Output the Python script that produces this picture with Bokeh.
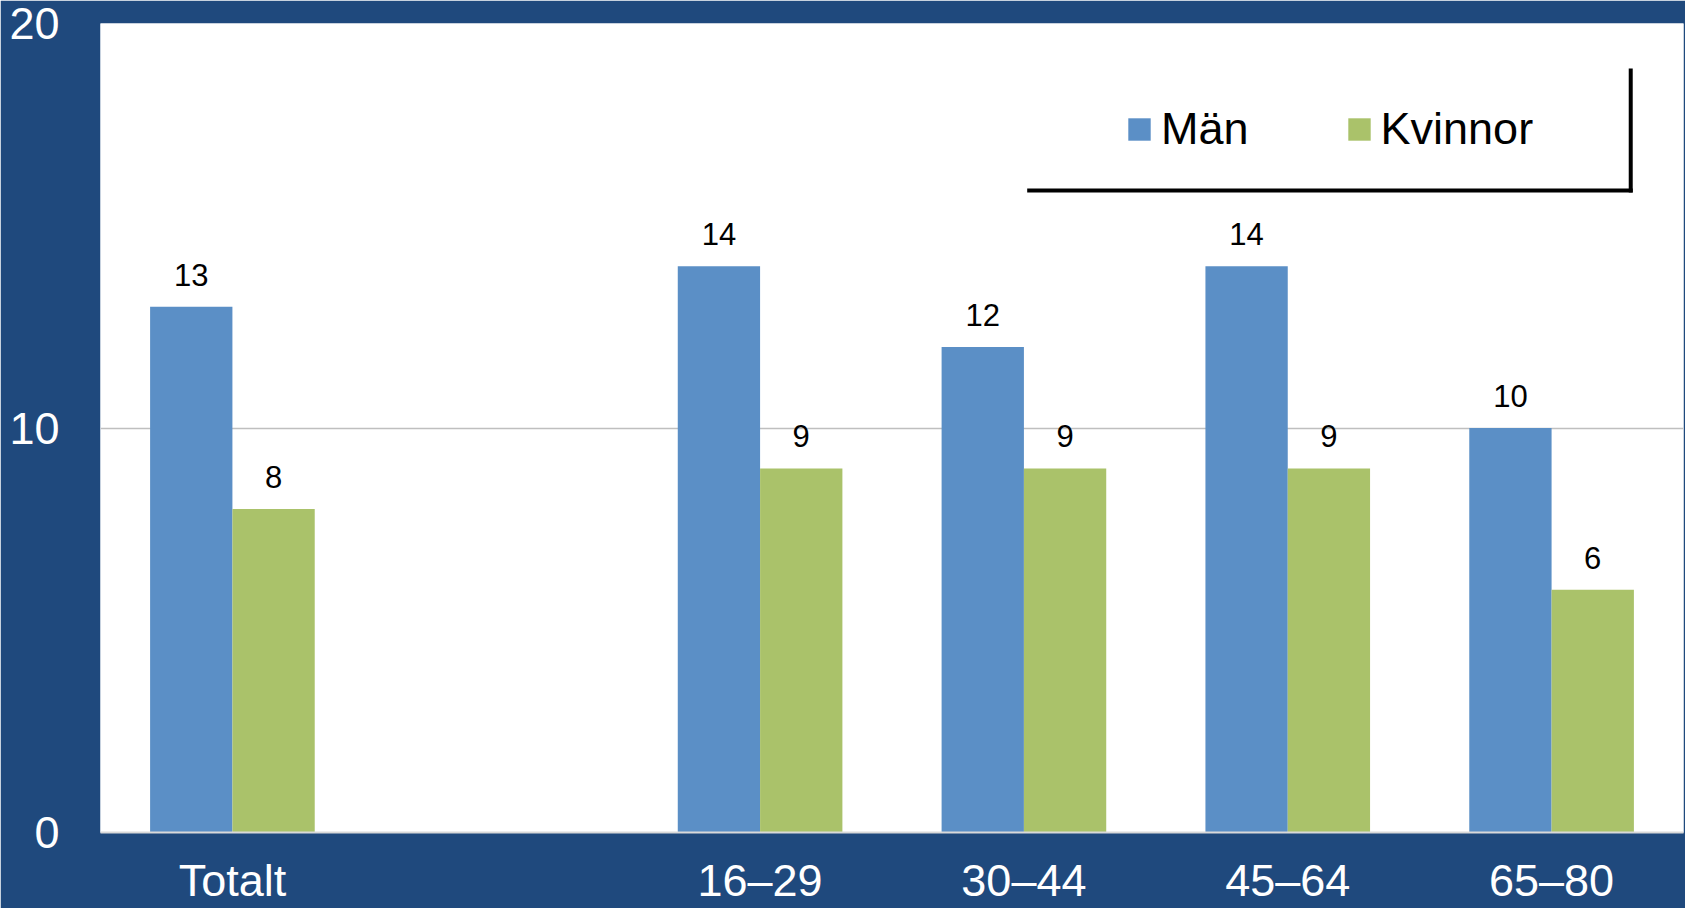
from bokeh.plotting import figure
from bokeh.models import FixedTicker, ColumnDataSource, Legend, LegendItem
from bokeh.core.properties import value
from bokeh.embed import file_html
from bokeh.resources import INLINE

# ---- data ----
categories = ["Totalt", "", "16–29", "30–44", "45–64", "65–80"]
man = [13, None, 14, 12, 14, 10]
kvinnor = [8, None, 9, 9, 9, 6]
y_ticks = [0, 10, 20]
series_names = ["Män", "Kvinnor"]

# ---- styles / layout ----
BG = "#1F497D"
BLUE = "#5B8FC6"
GREEN = "#AAC26A"
FONT = "Liberation Sans"
OFFSET = 0.156
BAR_W = 0.312
W, H = 1685, 908
B_LEFT, B_RIGHT, B_TOP, B_BOTTOM = 100, 2, 23, 76

n = len(categories)
p = figure(width=W, height=H, output_backend="svg", toolbar_location=None,
           x_range=(0, n), y_range=(y_ticks[0], y_ticks[-1]),
           min_border_left=B_LEFT, min_border_right=B_RIGHT,
           min_border_top=B_TOP, min_border_bottom=B_BOTTOM)
p.background_fill_color = "white"
p.border_fill_color = BG
p.outline_line_color = None


def series_source(vals, shift):
    xs, ys, txt = [], [], []
    for i, v in enumerate(vals):
        if v is None:
            continue
        xs.append(i + 0.5 + shift)
        ys.append(v)
        txt.append(str(v))
    return ColumnDataSource(dict(x=xs, y=ys, label=txt))


src_m = series_source(man, -OFFSET)
src_k = series_source(kvinnor, OFFSET)

r_m = p.vbar(x="x", top="y", width=BAR_W, source=src_m, fill_color=BLUE, line_color=None)
r_k = p.vbar(x="x", top="y", width=BAR_W, source=src_k, fill_color=GREEN, line_color=None)

for src in (src_m, src_k):
    p.text(x="x", y="y", text="label", source=src, text_align="center",
           text_baseline="alphabetic", y_offset=-32, text_font=value(FONT),
           text_font_size="31px", text_color="black")

# legend frame (shadow-like lines at bottom and right)
p.segment(x0=[3.52, 5.80], y0=[15.87, 15.87], x1=[5.80, 5.80], y1=[15.87, 18.84],
          line_color="black", line_width=4, line_cap="square")

legend = Legend(items=[LegendItem(label=series_names[0], renderers=[r_m]),
                       LegendItem(label=series_names[1], renderers=[r_k])],
                orientation="horizontal", location=(1025, 677),
                background_fill_alpha=0, border_line_alpha=0, padding=0, margin=0,
                glyph_width=28, glyph_height=28, label_standoff=8, spacing=96,
                label_text_font=FONT, label_text_font_size="45px", label_text_color="black")
p.add_layout(legend, "center")

# y axis
p.yaxis.ticker = FixedTicker(ticks=y_ticks)
p.yaxis.axis_line_color = None
p.yaxis.major_tick_line_color = None
p.yaxis.minor_tick_line_color = None
p.yaxis.major_label_text_color = "white"
p.yaxis.major_label_text_font = FONT
p.yaxis.major_label_text_font_size = "45px"
p.yaxis.major_label_standoff = 35

# x axis
xt = [i + 0.5 for i, c in enumerate(categories) if c]
p.xaxis.ticker = FixedTicker(ticks=xt)
p.xaxis.major_label_overrides = {i + 0.5: c for i, c in enumerate(categories) if c}
p.xaxis.axis_line_color = "#D9D9D9"
p.xaxis.axis_line_width = 2
p.xaxis.major_tick_line_color = None
p.xaxis.minor_tick_line_color = None
p.xaxis.major_label_text_color = "white"
p.xaxis.major_label_text_font = FONT
p.xaxis.major_label_text_font_size = "45px"
p.xaxis.major_label_standoff = 16

p.xgrid.grid_line_color = None
p.ygrid.ticker = FixedTicker(ticks=[10])
p.ygrid.grid_line_color = "#BFBFBF"
p.ygrid.grid_line_width = 1.5

open("out.html", "w").write(file_html(p, INLINE))
